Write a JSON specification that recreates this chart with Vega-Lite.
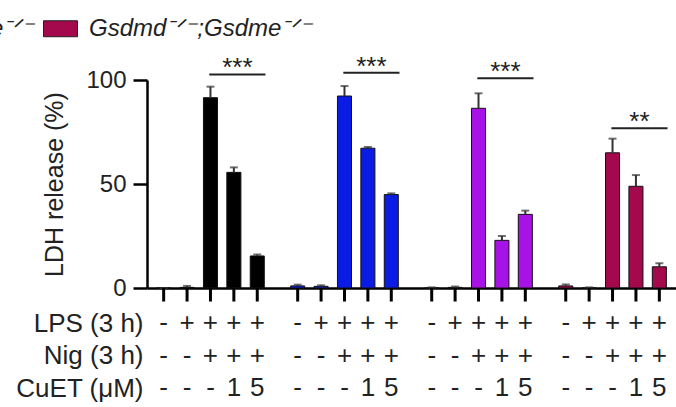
{
  "$schema": "https://vega.github.io/schema/vega-lite/v6.json",
  "width": 529,
  "height": 208,
  "autosize": {"type": "none"},
  "padding": {"left": 147, "top": 80, "right": 0, "bottom": 119},
  "config": {
    "font": "Liberation Sans",
    "view": {"stroke": null},
    "axis": {"labelColor": "#222", "titleColor": "#222", "grid": false}
  },
  "datasets": {
    "ldh": [
      {"genotype": "WT", "cond": "c1", "mean": 0, "hi": 0, "LPS (3 h)": "-", "Nig (3 h)": "-", "CuET  (μM)": "-"},
      {"genotype": "WT", "cond": "c2", "mean": 0.3, "hi": 1.0, "LPS (3 h)": "+", "Nig (3 h)": "-", "CuET  (μM)": "-"},
      {"genotype": "WT", "cond": "c3", "mean": 91.5, "hi": 96.8, "LPS (3 h)": "+", "Nig (3 h)": "+", "CuET  (μM)": "-"},
      {"genotype": "WT", "cond": "c4", "mean": 55.6, "hi": 58.0, "LPS (3 h)": "+", "Nig (3 h)": "+", "CuET  (μM)": "1"},
      {"genotype": "WT", "cond": "c5", "mean": 15.4, "hi": 16.1, "LPS (3 h)": "+", "Nig (3 h)": "+", "CuET  (μM)": "5"},
      {"genotype": "Gsdmd⁻ᐟ⁻", "cond": "c1", "mean": 1.0, "hi": 1.6, "LPS (3 h)": "-", "Nig (3 h)": "-", "CuET  (μM)": "-"},
      {"genotype": "Gsdmd⁻ᐟ⁻", "cond": "c2", "mean": 0.8, "hi": 1.3, "LPS (3 h)": "+", "Nig (3 h)": "-", "CuET  (μM)": "-"},
      {"genotype": "Gsdmd⁻ᐟ⁻", "cond": "c3", "mean": 92.3, "hi": 97.1, "LPS (3 h)": "+", "Nig (3 h)": "+", "CuET  (μM)": "-"},
      {"genotype": "Gsdmd⁻ᐟ⁻", "cond": "c4", "mean": 67.2, "hi": 67.8, "LPS (3 h)": "+", "Nig (3 h)": "+", "CuET  (μM)": "1"},
      {"genotype": "Gsdmd⁻ᐟ⁻", "cond": "c5", "mean": 44.9, "hi": 45.5, "LPS (3 h)": "+", "Nig (3 h)": "+", "CuET  (μM)": "5"},
      {"genotype": "Gsdme⁻ᐟ⁻", "cond": "c1", "mean": 0, "hi": 0.3, "LPS (3 h)": "-", "Nig (3 h)": "-", "CuET  (μM)": "-"},
      {"genotype": "Gsdme⁻ᐟ⁻", "cond": "c2", "mean": 0.3, "hi": 0.7, "LPS (3 h)": "+", "Nig (3 h)": "-", "CuET  (μM)": "-"},
      {"genotype": "Gsdme⁻ᐟ⁻", "cond": "c3", "mean": 86.4, "hi": 93.6, "LPS (3 h)": "+", "Nig (3 h)": "+", "CuET  (μM)": "-"},
      {"genotype": "Gsdme⁻ᐟ⁻", "cond": "c4", "mean": 22.9, "hi": 25.0, "LPS (3 h)": "+", "Nig (3 h)": "+", "CuET  (μM)": "1"},
      {"genotype": "Gsdme⁻ᐟ⁻", "cond": "c5", "mean": 35.4, "hi": 37.2, "LPS (3 h)": "+", "Nig (3 h)": "+", "CuET  (μM)": "5"},
      {"genotype": "Gsdmd⁻ᐟ⁻;Gsdme⁻ᐟ⁻", "cond": "c1", "mean": 1.0, "hi": 1.7, "LPS (3 h)": "-", "Nig (3 h)": "-", "CuET  (μM)": "-"},
      {"genotype": "Gsdmd⁻ᐟ⁻;Gsdme⁻ᐟ⁻", "cond": "c2", "mean": 0, "hi": 0.3, "LPS (3 h)": "+", "Nig (3 h)": "-", "CuET  (μM)": "-"},
      {"genotype": "Gsdmd⁻ᐟ⁻;Gsdme⁻ᐟ⁻", "cond": "c3", "mean": 65.0, "hi": 71.8, "LPS (3 h)": "+", "Nig (3 h)": "+", "CuET  (μM)": "-"},
      {"genotype": "Gsdmd⁻ᐟ⁻;Gsdme⁻ᐟ⁻", "cond": "c4", "mean": 48.9, "hi": 54.3, "LPS (3 h)": "+", "Nig (3 h)": "+", "CuET  (μM)": "1"},
      {"genotype": "Gsdmd⁻ᐟ⁻;Gsdme⁻ᐟ⁻", "cond": "c5", "mean": 10.2, "hi": 11.9, "LPS (3 h)": "+", "Nig (3 h)": "+", "CuET  (μM)": "5"}
    ],
    "sig": [
      {"genotype": "WT", "level": 102.7, "stars": "***"},
      {"genotype": "Gsdmd⁻ᐟ⁻", "level": 103.5, "stars": "***"},
      {"genotype": "Gsdme⁻ᐟ⁻", "level": 100.8, "stars": "***"},
      {"genotype": "Gsdmd⁻ᐟ⁻;Gsdme⁻ᐟ⁻", "level": 76.8, "stars": "**"}
    ]
  },
  "layer": [
    {
      "layer": [
        {
          "data": {"name": "ldh"},
          "mark": {"type": "bar", "stroke": "#111", "strokeWidth": 1},
          "encoding": {
            "x": {"field": "genotype", "type": "nominal",
                  "scale": {"domain": ["WT", "Gsdmd⁻ᐟ⁻", "Gsdme⁻ᐟ⁻", "Gsdmd⁻ᐟ⁻;Gsdme⁻ᐟ⁻"], "paddingInner": 0.127, "paddingOuter": 0.037},
                  "axis": {"title": null, "labels": false, "ticks": false, "domainColor": "#000", "domainWidth": 2.5}},
            "xOffset": {"field": "cond", "type": "nominal",
                  "scale": {"domain": ["c1", "c2", "c3", "c4", "c5"], "paddingInner": 0.4, "paddingOuter": 0.2}},
            "y": {"field": "mean", "type": "quantitative",
                  "scale": {"domain": [0, 100], "nice": false},
                  "axis": {"values": [0, 50, 100], "title": "LDH release (%)", "titleFontSize": 25, "titleFontWeight": "normal", "titlePadding": 18,
                           "labelFontSize": 24, "labelPadding": 7, "tickSize": 14, "tickWidth": 2.5, "tickColor": "#000",
                           "domainColor": "#000", "domainWidth": 2.5}},
            "color": {"field": "genotype", "type": "nominal",
                  "scale": {"domain": ["WT", "Gsdmd⁻ᐟ⁻", "Gsdme⁻ᐟ⁻", "Gsdmd⁻ᐟ⁻;Gsdme⁻ᐟ⁻"], "range": ["#000000", "#0a1be3", "#a713e6", "#a3094c"]},
                  "legend": {"orient": "none", "direction": "horizontal", "legendX": -522, "legendY": -69, "title": null,
                             "labelFontSize": 24, "labelFontStyle": "italic", "labelColor": "#222", "labelOffset": 11, "columnPadding": 6, "labelLimit": 500,
                             "symbolType": "M-1,-0.47H1V0.47H-1Z", "symbolSize": 1156, "symbolStrokeColor": "#222", "symbolStrokeWidth": 1, "symbolOpacity": 1}}
          }
        },
        {
          "data": {"name": "ldh"},
          "mark": {"type": "rule", "color": "#333", "strokeWidth": 2},
          "encoding": {
            "x": {"field": "genotype", "type": "nominal"},
            "xOffset": {"field": "cond", "type": "nominal"},
            "y": {"field": "mean", "type": "quantitative"},
            "y2": {"field": "hi"}
          }
        },
        {
          "data": {"name": "ldh"},
          "mark": {"type": "tick", "color": "#333", "size": 8, "thickness": 2, "orient": "horizontal"},
          "encoding": {
            "x": {"field": "genotype", "type": "nominal"},
            "xOffset": {"field": "cond", "type": "nominal"},
            "y": {"field": "hi", "type": "quantitative"}
          }
        },
        {
          "data": {"name": "ldh"},
          "mark": {"type": "rule", "color": "#000", "strokeWidth": 3},
          "encoding": {
            "x": {"field": "genotype", "type": "nominal"},
            "xOffset": {"field": "cond", "type": "nominal"},
            "y": {"datum": 0},
            "y2": {"datum": -6.5}
          }
        },
        {
          "data": {"name": "sig"},
          "mark": {"type": "rule", "color": "#222", "strokeWidth": 2},
          "encoding": {
            "x": {"field": "genotype", "type": "nominal", "bandPosition": 0.49},
            "x2": {"field": "genotype", "bandPosition": 0.97},
            "y": {"field": "level", "type": "quantitative"}
          }
        },
        {
          "data": {"name": "sig"},
          "mark": {"type": "text", "fontSize": 26, "baseline": "alphabetic", "align": "center", "dy": 2, "color": "#222"},
          "encoding": {
            "x": {"field": "genotype", "type": "nominal", "bandPosition": 0.73},
            "y": {"field": "level", "type": "quantitative"},
            "text": {"field": "stars"}
          }
        }
      ]
    },
    {
      "data": {"name": "ldh"},
      "transform": [{"fold": ["LPS (3 h)", "Nig (3 h)", "CuET  (μM)"], "as": ["treatment", "value"]}],
      "mark": {"type": "text", "fontSize": 26, "baseline": "middle", "align": "center", "color": "#222"},
      "encoding": {
        "x": {"field": "genotype", "type": "nominal"},
        "xOffset": {"field": "cond", "type": "nominal"},
        "y": {"field": "treatment", "type": "nominal",
              "scale": {"type": "point", "domain": ["LPS (3 h)", "Nig (3 h)", "CuET  (μM)"], "range": [243, 308], "padding": 0},
              "axis": {"orient": "left", "title": null, "domain": false, "ticks": false, "labelFontSize": 26, "labelPadding": 4, "labelColor": "#222"}},
        "text": {"field": "value"}
      }
    }
  ],
  "resolve": {"scale": {"y": "independent"}, "axis": {"y": "independent"}}
}
